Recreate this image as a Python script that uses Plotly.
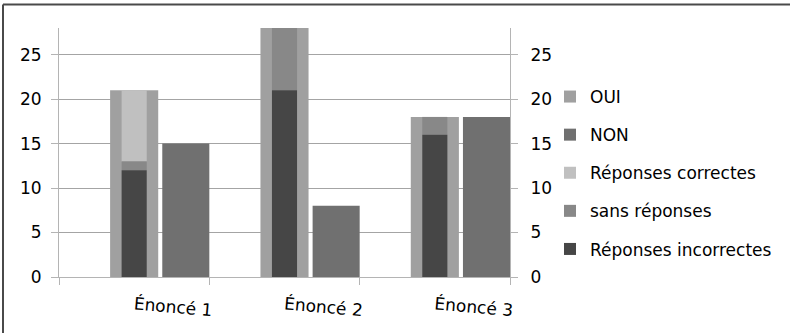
import plotly.graph_objects as go
import numpy as np

# Data
enonces = ["Énoncé 1", "Énoncé 2", "Énoncé 3"]
oui = [21, 28, 18]
non = [15, 8, 18]
reponses_incorrectes = [12, 21, 16]
sans_reponses = [1, 7, 2]
reponses_correctes = [8, 0, 0]
y_ticks = [0, 5, 10, 15, 20, 25]

FONT = "DejaVu Sans"
GRID = "#a4a4a4"
AXIS = "#b4b4b4"

# bases for the narrow stacked column (incorrectes -> sans réponses -> correctes)
base_sans = np.array(reponses_incorrectes)
base_correctes = base_sans + np.array(sans_reponses)

fig = go.Figure()

wide_w, wide_off = 0.32, -0.16
thin_w, thin_off = 0.167, -0.0835
non_w, non_off = 0.313, 0.187

fig.add_trace(go.Bar(name="OUI", x=enonces, y=oui, width=wide_w, offset=wide_off,
                     marker=dict(color="#a0a0a0", line=dict(width=0)), legendgroup="a"))
fig.add_trace(go.Bar(name="NON", x=enonces, y=non, width=non_w, offset=non_off,
                     marker=dict(color="#707070", line=dict(width=0)), legendgroup="b"))
fig.add_trace(go.Bar(name="Réponses correctes", x=enonces, y=reponses_correctes,
                     base=base_correctes, width=thin_w, offset=thin_off,
                     marker=dict(color="#c0c0c0", line=dict(width=0)), legendgroup="c"))
fig.add_trace(go.Bar(name="sans réponses", x=enonces, y=sans_reponses,
                     base=base_sans, width=thin_w, offset=thin_off,
                     marker=dict(color="#888888", line=dict(width=0)), legendgroup="d"))
fig.add_trace(go.Bar(name="Réponses incorrectes", x=enonces, y=reponses_incorrectes,
                     width=thin_w, offset=thin_off,
                     marker=dict(color="#464646", line=dict(width=0)), legendgroup="e"))
# secondary (right) value axis carries the same scale
fig.add_trace(go.Scatter(x=enonces, y=oui, yaxis="y2", mode="markers",
                         marker=dict(opacity=0), showlegend=False, hoverinfo="skip"))

yaxis_common = dict(
    range=[0, 28], tickvals=y_ticks, ticks="outside", ticklen=7, tickcolor=AXIS,
    showline=True, linecolor=AXIS, linewidth=1, zeroline=False,
    tickfont=dict(family=FONT, size=17, color="#000000"),
)

# frame edges (top and left only; the others run past the page)
px_x = lambda p: (p - 59) / 451
px_y = lambda p: (277 - p) / 249
frame = dict(color="#4a4a4a", width=2)

fig.update_layout(
    width=790, height=333,
    margin=dict(l=59, r=280, t=28, b=56),
    barmode="overlay",
    plot_bgcolor="white", paper_bgcolor="white",
    font=dict(family=FONT, size=17, color="#000000"),
    showlegend=True,
    legend=dict(
        x=px_x(550), xanchor="left", y=px_y(79), yanchor="top",
        traceorder="grouped", tracegroupgap=13,
        font=dict(family=FONT, size=17, color="#000000"),
        itemwidth=30, bgcolor="rgba(0,0,0,0)",
    ),
    xaxis=dict(
        type="category", range=[-0.5, 2.5], showline=True, linecolor=AXIS,
        ticks="outside", tickson="boundaries", ticklen=7, tickcolor=AXIS,
        showgrid=False, tickangle=5, ticklabelstandoff=11, automargin=False,
        tickfont=dict(family=FONT, size=17, color="#000000"),
    ),
    yaxis=dict(showgrid=True, gridcolor=GRID, gridwidth=1, automargin=False,
               ticklabelstandoff=6, **yaxis_common),
    yaxis2=dict(overlaying="y", side="right", showgrid=False, automargin=False,
                ticklabelstandoff=9, **yaxis_common),
    shapes=[
        dict(type="line", xref="paper", yref="paper",
             x0=px_x(3), x1=px_x(800), y0=px_y(4.5), y1=px_y(4.5), line=frame),
        dict(type="line", xref="paper", yref="paper",
             x0=px_x(3), x1=px_x(3), y0=px_y(4.5), y1=px_y(340), line=frame),
    ],
)

fig.write_html("out.html")
